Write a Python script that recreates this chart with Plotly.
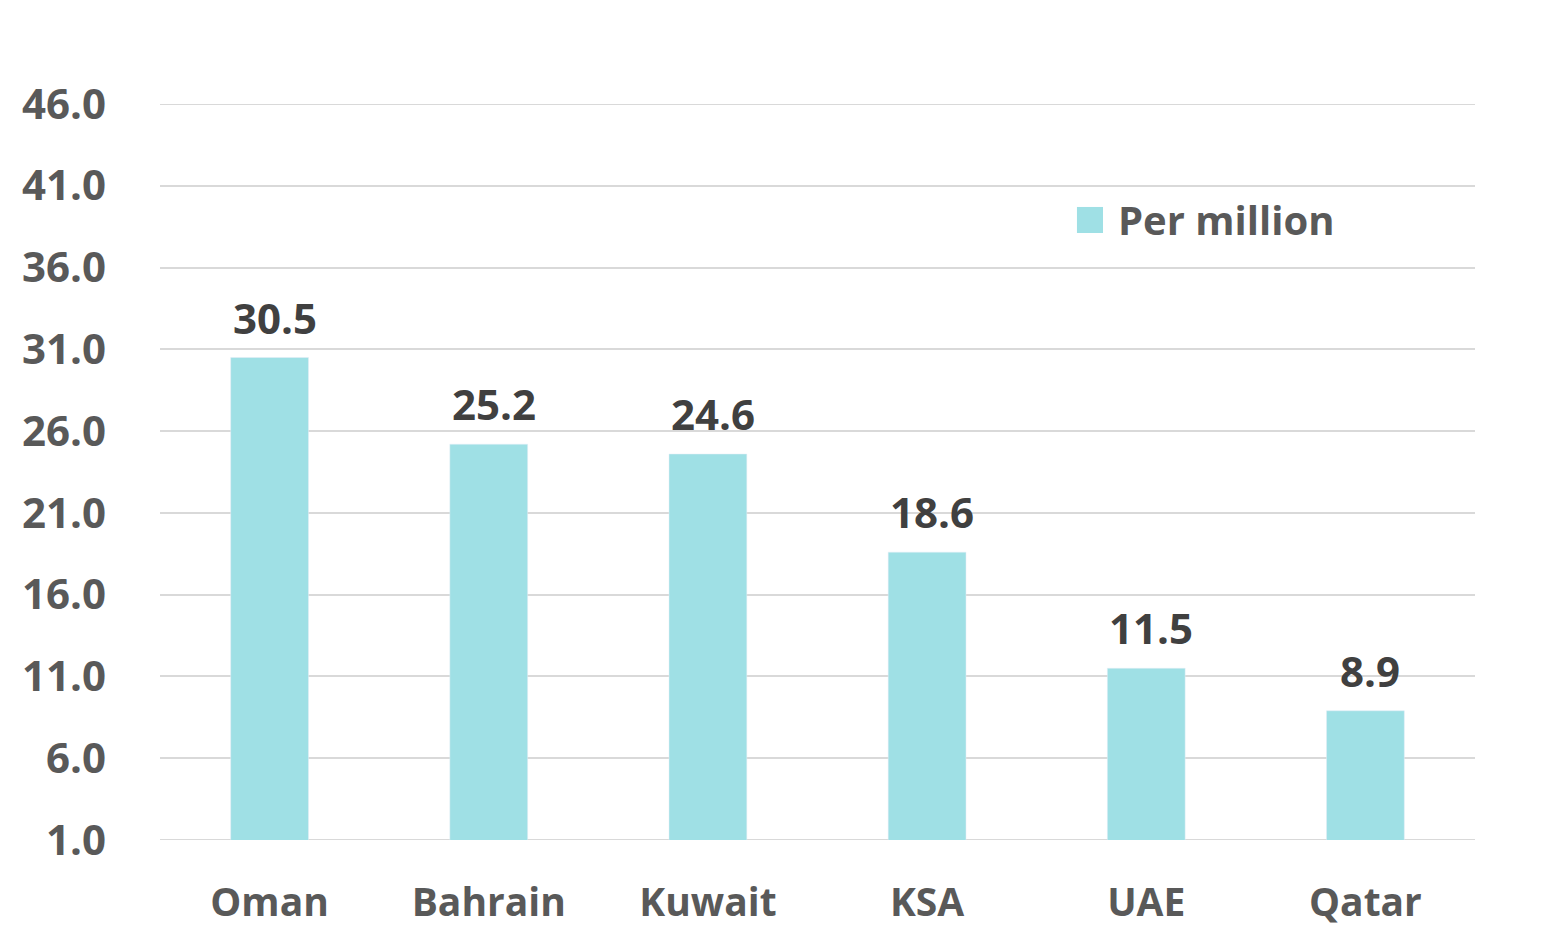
import plotly.graph_objects as go

categories = ["Oman", "Bahrain", "Kuwait", "KSA", "UAE", "Qatar"]
values = [30.5, 25.2, 24.6, 18.6, 11.5, 8.9]
series_name = "Per million"
tick_vals = [1.0, 6.0, 11.0, 16.0, 21.0, 26.0, 31.0, 36.0, 41.0, 46.0]

BAR = "#9FE0E5"
FONT = "Open Sans"
GRID = "#D9D9D9"

fig = go.Figure()
fig.add_trace(go.Bar(x=categories, y=values, marker_color=BAR, name=series_name,
                     showlegend=False, hoverinfo="x+y"))

for c, v in zip(categories, values):
    fig.add_annotation(x=c, y=v, text=f"{v:.1f}", showarrow=False, yanchor="bottom",
                       yshift=10, xshift=5,
                       font=dict(family=FONT, size=42, color="#404040", weight="bold"))

# edge gridlines (plotly omits gridlines at the range ends)
for t in (tick_vals[0], tick_vals[-1]):
    fig.add_shape(type="line", xref="paper", yref="y", x0=0, x1=1, y0=t, y1=t,
                  line=dict(color=GRID, width=2), layer="below")

# legend (manual)
fig.add_shape(type="rect", xref="paper", yref="paper", x0=0.6973, x1=0.7171,
              y0=0.8247, y1=0.8601, fillcolor=BAR, line_width=0)
fig.add_annotation(xref="paper", yref="paper", x=0.7270, y=0.8424, text=series_name,
                   showarrow=False, xanchor="left", yanchor="middle",
                   font=dict(family=FONT, size=40, color="#595959", weight="bold"))

fig.update_layout(
    width=1565, height=951,
    margin=dict(l=152, r=98, t=96, b=119),
    plot_bgcolor="white", paper_bgcolor="white",
    bargap=0.645,
    font=dict(family=FONT, size=38, color="#595959"),
)
fig.update_xaxes(showgrid=False, showline=False, zeroline=False,
                 tickfont=dict(family=FONT, size=39, color="#595959", weight="bold"),
                 ticklabelstandoff=36)
fig.update_yaxes(range=[1, 46], tickvals=tick_vals, ticktext=[f"{t:.1f}" for t in tick_vals],
                 showgrid=True, gridcolor=GRID, gridwidth=2, zeroline=False,
                 showline=False,
                 tickfont=dict(family=FONT, size=42, color="#595959", weight="bold"),
                 ticklabelstandoff=53)

fig.write_html("out.html")
